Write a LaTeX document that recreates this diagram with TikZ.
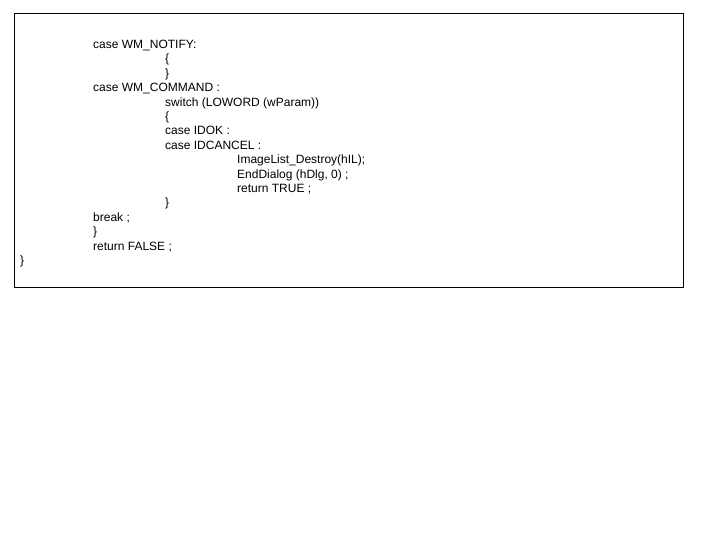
\documentclass[tikz,border=0pt]{standalone}
\usepackage{fontspec}
\setmainfont{Liberation Sans}
\usetikzlibrary{positioning}

\tikzset{
  codeline/.style={anchor=base west, inner sep=0pt, font=\fontsize{12}{14}\selectfont},
  frame/.style={draw=black, line width=1pt}
}

\begin{document}
\begin{tikzpicture}[x=1pt, y=-1pt]
\useasboundingbox (0,0) rectangle (720,540);
\draw[frame] (14,14) rectangle (683,287);

\node[codeline] (l1)  at (93,48.5)  {case WM\_NOTIFY:};
\node[codeline] (l2)  at (165,62.9) {\{};
\node[codeline] (l3)  at (165,77.3) {\}};
\node[codeline] (l4)  at (93,91.7)  {case WM\_COMMAND :};
\node[codeline] (l5)  at (165,106.1) {switch (LOWORD (wParam))};
\node[codeline] (l6)  at (165,120.5) {\{};
\node[codeline] (l7)  at (165,134.9) {case IDOK :};
\node[codeline] (l8)  at (165,149.3) {case IDCANCEL :};
\node[codeline] (l9)  at (237,163.7) {ImageList\_Destroy(hIL);};
\node[codeline] (l10) at (237,178.1) {EndDialog (hDlg, 0) ;};
\node[codeline] (l11) at (237,192.5) {return TRUE ;};
\node[codeline] (l12) at (165,206.9) {\}};
\node[codeline] (l13) at (93,221.3)  {break ;};
\node[codeline] (l14) at (93,235.7)  {\}};
\node[codeline] (l15) at (93,250.1)  {return FALSE ;};
\node[codeline] (l16) at (20,264.5)  {\}};
\end{tikzpicture}
\end{document}
